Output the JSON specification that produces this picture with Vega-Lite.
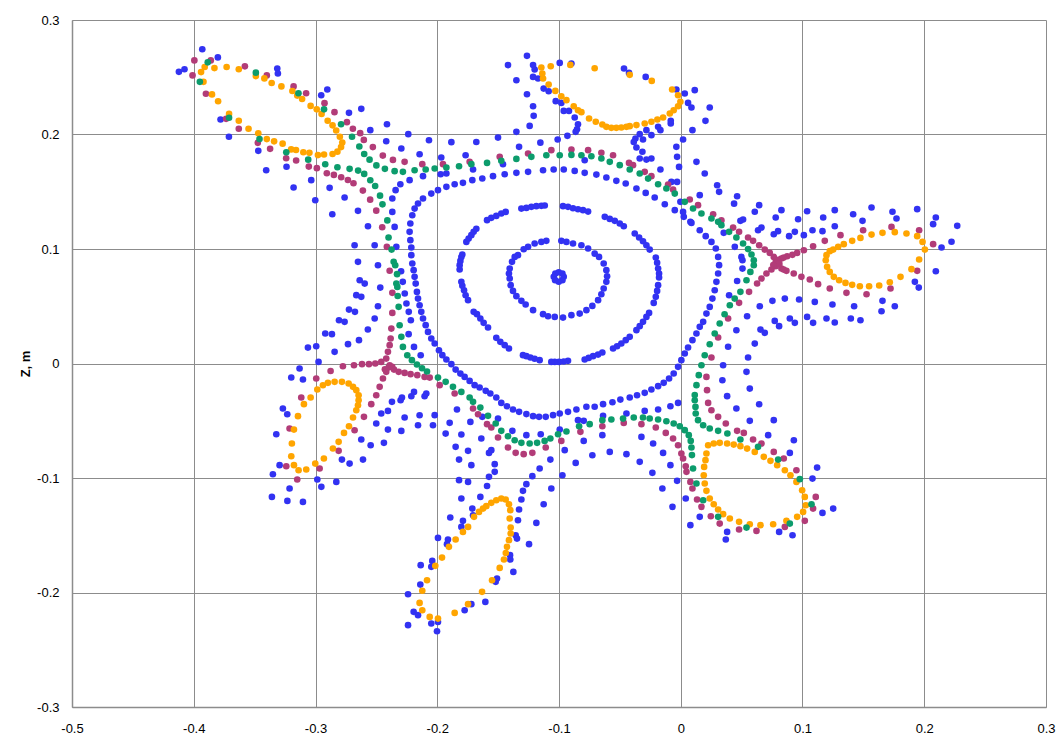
{
"$schema":"https://vega.github.io/schema/vega-lite/v6.json",
"width":974,"height":687,"autosize":{"type":"none"},
"padding":{"left":72,"top":20,"right":11,"bottom":34},
"background":"white",
"config":{"view":{"stroke":null},"axis":{"grid":true,"gridColor":"#8c8c8c","gridWidth":1,"domainColor":"#8c8c8c","domainWidth":1.5,"ticks":false,"labelFont":"Liberation Sans","labelFontSize":13,"labelColor":"#000","titleFont":"Liberation Sans","titleFontSize":13,"titleColor":"#000","titleFontWeight":"bold"}},
"datasets":{
"blue":[
{"x":-0.1043,"y":0.0757},{"x":-0.1030,"y":0.0786},{"x":-0.1002,"y":0.0797},{"x":-0.0972,"y":0.0786},{"x":-0.0961,"y":0.0757},{"x":-0.0972,"y":0.0728},{"x":-0.1002,"y":0.0714},{"x":-0.1032,"y":0.0728},
{"x":-0.1405,"y":0.0829},{"x":-0.1411,"y":0.0786},{"x":-0.1405,"y":0.0742},{"x":-0.1397,"y":0.0684},{"x":-0.1378,"y":0.0634},{"x":-0.1350,"y":0.0588},{"x":-0.1309,"y":0.0547},{"x":-0.1274,"y":0.0515},{"x":-0.1213,"y":0.0466},{"x":-0.1131,"y":0.0431},{"x":-0.1090,"y":0.0413},{"x":-0.1035,"y":0.0407},{"x":-0.0967,"y":0.0401},{"x":-0.0898,"y":0.0422},{"x":-0.0830,"y":0.0436},{"x":-0.0775,"y":0.0466},{"x":-0.0726,"y":0.0503},{"x":-0.0679,"y":0.0553},{"x":-0.0652,"y":0.0605},{"x":-0.0633,"y":0.0655},{"x":-0.0611,"y":0.0713},{"x":-0.0605,"y":0.0762},{"x":-0.0611,"y":0.0815},{"x":-0.0633,"y":0.0873},{"x":-0.0671,"y":0.0931},{"x":-0.0707,"y":0.0960},{"x":-0.0761,"y":0.1004},{"x":-0.0816,"y":0.1033},{"x":-0.0885,"y":0.1048},{"x":-0.0939,"y":0.1062},{"x":-0.0981,"y":0.1071},{"x":-0.1104,"y":0.1071},{"x":-0.1145,"y":0.1062},{"x":-0.1200,"y":0.1048},{"x":-0.1254,"y":0.1019},{"x":-0.1290,"y":0.0998},{"x":-0.1337,"y":0.0946},{"x":-0.1364,"y":0.0931},{"x":-0.1386,"y":0.0888},
{"x":-0.1591,"y":0.1252},{"x":-0.1556,"y":0.1272},{"x":-0.1515,"y":0.1289},{"x":-0.1474,"y":0.1310},{"x":-0.1438,"y":0.1324},{"x":-0.1309,"y":0.1353},{"x":-0.1268,"y":0.1359},{"x":-0.1227,"y":0.1368},{"x":-0.1186,"y":0.1374},{"x":-0.1145,"y":0.1377},{"x":-0.1117,"y":0.1380},{"x":-0.0967,"y":0.1374},{"x":-0.0926,"y":0.1368},{"x":-0.0885,"y":0.1356},{"x":-0.0844,"y":0.1347},{"x":-0.0803,"y":0.1339},{"x":-0.0761,"y":0.1327},{"x":-0.0624,"y":0.1281},{"x":-0.0583,"y":0.1263},{"x":-0.0542,"y":0.1246},{"x":-0.0501,"y":0.1223},{"x":-0.0468,"y":0.1199},{"x":-0.0378,"y":0.1135},{"x":-0.0342,"y":0.1100},{"x":-0.0310,"y":0.1068},{"x":-0.0282,"y":0.1033},{"x":-0.0255,"y":0.0995},{"x":-0.0205,"y":0.0925},{"x":-0.0194,"y":0.0879},{"x":-0.0186,"y":0.0829},{"x":-0.0178,"y":0.0786},{"x":-0.0178,"y":0.0751},{"x":-0.0186,"y":0.0684},{"x":-0.0194,"y":0.0634},{"x":-0.0205,"y":0.0582},{"x":-0.0222,"y":0.0529},{"x":-0.0260,"y":0.0442},{"x":-0.0282,"y":0.0407},{"x":-0.0310,"y":0.0364},{"x":-0.0337,"y":0.0326},{"x":-0.0364,"y":0.0291},{"x":-0.0419,"y":0.0233},{"x":-0.0452,"y":0.0204},{"x":-0.0488,"y":0.0175},{"x":-0.0523,"y":0.0151},{"x":-0.0556,"y":0.0131},{"x":-0.0644,"y":0.0096},{"x":-0.0679,"y":0.0078},{"x":-0.0720,"y":0.0064},{"x":-0.0756,"y":0.0049},{"x":-0.0789,"y":0.0035},{"x":-0.0926,"y":0.0023},{"x":-0.0961,"y":0.0017},{"x":-0.1000,"y":0.0014},{"x":-0.1035,"y":0.0014},{"x":-0.1063,"y":0.0014},{"x":-0.1159,"y":0.0029},{"x":-0.1200,"y":0.0041},{"x":-0.1235,"y":0.0052},{"x":-0.1268,"y":0.0064},{"x":-0.1296,"y":0.0073},{"x":-0.1411,"y":0.0131},{"x":-0.1446,"y":0.0160},{"x":-0.1482,"y":0.0189},{"x":-0.1515,"y":0.0224},{"x":-0.1583,"y":0.0314},{"x":-0.1619,"y":0.0355},{"x":-0.1646,"y":0.0393},{"x":-0.1674,"y":0.0431},{"x":-0.1701,"y":0.0451},{"x":-0.1747,"y":0.0553},{"x":-0.1767,"y":0.0596},{"x":-0.1780,"y":0.0640},{"x":-0.1794,"y":0.0678},{"x":-0.1802,"y":0.0713},{"x":-0.1816,"y":0.0821},{"x":-0.1816,"y":0.0859},{"x":-0.1810,"y":0.0896},{"x":-0.1802,"y":0.0931},{"x":-0.1794,"y":0.0952},{"x":-0.1761,"y":0.1062},{"x":-0.1742,"y":0.1091},{"x":-0.1720,"y":0.1121},{"x":-0.1701,"y":0.1150},{"x":-0.1679,"y":0.1176},
{"x":-0.2186,"y":0.1353},{"x":-0.2158,"y":0.1397},{"x":-0.2117,"y":0.1441},{"x":-0.2049,"y":0.1484},{"x":-0.1994,"y":0.1514},{"x":-0.1925,"y":0.1543},{"x":-0.1857,"y":0.1566},{"x":-0.1789,"y":0.1578},{"x":-0.1712,"y":0.1601},{"x":-0.1630,"y":0.1616},{"x":-0.1542,"y":0.1636},{"x":-0.1446,"y":0.1653},{"x":-0.1350,"y":0.1665},{"x":-0.1254,"y":0.1674},{"x":-0.1131,"y":0.1688},{"x":-0.1044,"y":0.1694},{"x":-0.0961,"y":0.1694},{"x":-0.0871,"y":0.1682},{"x":-0.0789,"y":0.1665},{"x":-0.0693,"y":0.1650},{"x":-0.0611,"y":0.1624},{"x":-0.0529,"y":0.1595},{"x":-0.0452,"y":0.1572},{"x":-0.0364,"y":0.1528},{"x":-0.0288,"y":0.1490},{"x":-0.0214,"y":0.1450},{"x":-0.0131,"y":0.1391},{"x":-0.0049,"y":0.1339},{"x":0.0025,"y":0.1281},{"x":0.0088,"y":0.1228},{"x":0.0156,"y":0.1164},{"x":0.0205,"y":0.1112},{"x":0.0252,"y":0.1062},{"x":0.0288,"y":0.1004},{"x":0.0307,"y":0.0931},{"x":0.0315,"y":0.0859},{"x":0.0307,"y":0.0786},{"x":0.0293,"y":0.0713},{"x":0.0279,"y":0.0640},{"x":0.0260,"y":0.0567},{"x":0.0238,"y":0.0494},{"x":0.0211,"y":0.0436},{"x":0.0184,"y":0.0364},{"x":0.0156,"y":0.0320},{"x":0.0129,"y":0.0262},{"x":0.0096,"y":0.0204},{"x":0.0060,"y":0.0140},{"x":0.0033,"y":0.0087},{"x":0.0005,"y":0.0029},{"x":-0.0022,"y":-0.0029},{"x":-0.0058,"y":-0.0087},{"x":-0.0096,"y":-0.0131},{"x":-0.0140,"y":-0.0169},{"x":-0.0186,"y":-0.0198},{"x":-0.0241,"y":-0.0227},{"x":-0.0296,"y":-0.0256},{"x":-0.0359,"y":-0.0277},{"x":-0.0419,"y":-0.0297},{"x":-0.0496,"y":-0.0315},{"x":-0.0561,"y":-0.0338},{"x":-0.0638,"y":-0.0355},{"x":-0.0707,"y":-0.0378},{"x":-0.0775,"y":-0.0378},{"x":-0.0857,"y":-0.0402},{"x":-0.0926,"y":-0.0422},{"x":-0.0994,"y":-0.0437},{"x":-0.1049,"y":-0.0451},{"x":-0.1109,"y":-0.0466},{"x":-0.1164,"y":-0.0466},{"x":-0.1213,"y":-0.0460},{"x":-0.1268,"y":-0.0442},{"x":-0.1328,"y":-0.0422},{"x":-0.1378,"y":-0.0402},{"x":-0.1427,"y":-0.0373},{"x":-0.1474,"y":-0.0344},{"x":-0.1515,"y":-0.0297},{"x":-0.1564,"y":-0.0262},{"x":-0.1602,"y":-0.0239},{"x":-0.1652,"y":-0.0210},{"x":-0.1693,"y":-0.0189},{"x":-0.1734,"y":-0.0152},{"x":-0.1775,"y":-0.0117},{"x":-0.1810,"y":-0.0088},{"x":-0.1849,"y":-0.0053},{"x":-0.1884,"y":-0.0006},{"x":-0.1925,"y":0.0035},{"x":-0.1958,"y":0.0073},{"x":-0.1986,"y":0.0116},{"x":-0.2021,"y":0.0175},{"x":-0.2049,"y":0.0218},{"x":-0.2076,"y":0.0276},{"x":-0.2095,"y":0.0335},{"x":-0.2117,"y":0.0393},{"x":-0.2131,"y":0.0451},{"x":-0.2145,"y":0.0509},{"x":-0.2158,"y":0.0567},{"x":-0.2167,"y":0.0625},{"x":-0.2177,"y":0.0698},{"x":-0.2186,"y":0.0757},{"x":-0.2194,"y":0.0815},{"x":-0.2205,"y":0.0873},{"x":-0.2213,"y":0.0946},{"x":-0.2213,"y":0.1013},{"x":-0.2221,"y":0.1077},{"x":-0.2227,"y":0.1150},{"x":-0.2221,"y":0.1223},{"x":-0.2205,"y":0.1295},
{"x":-0.4122,"y":0.2547},{"x":-0.4076,"y":0.2570},{"x":-0.3930,"y":0.2745},{"x":-0.3802,"y":0.2673},{"x":-0.3314,"y":0.2576},{"x":-0.3309,"y":0.2533},{"x":-0.3780,"y":0.2131},{"x":-0.3711,"y":0.1980},{"x":-0.3470,"y":0.1857},{"x":-0.3405,"y":0.1688},{"x":-0.3238,"y":0.1718},{"x":-0.3180,"y":0.1537},{"x":-0.3035,"y":0.1601},{"x":-0.3002,"y":0.1426},{"x":-0.2953,"y":0.2343},{"x":-0.2903,"y":0.2393},{"x":-0.2725,"y":0.2189},{"x":-0.2624,"y":0.2224},{"x":-0.2862,"y":0.1304},{"x":-0.2761,"y":0.1450},{"x":-0.2884,"y":0.1534},{"x":-0.2651,"y":0.1333},{"x":-0.2569,"y":0.1199},{"x":-0.2550,"y":0.2038},{"x":-0.2413,"y":0.2090},{"x":-0.2419,"y":0.1941},{"x":-0.2679,"y":0.1033},{"x":-0.2514,"y":0.1033},{"x":-0.2342,"y":0.1514},{"x":-0.2369,"y":0.1441},{"x":-0.2369,"y":0.1324},{"x":-0.2350,"y":0.1193},{"x":-0.2336,"y":0.1019},{"x":-0.2238,"y":0.2003},{"x":-0.2068,"y":0.1950},{"x":-0.1884,"y":0.1933},{"x":-0.2295,"y":0.1878},
{"x":-0.2145,"y":0.1828},{"x":-0.1967,"y":0.1799},{"x":-0.1767,"y":0.1819},{"x":-0.1706,"y":0.1694},{"x":-0.1972,"y":0.1653},{"x":-0.1925,"y":0.1659},{"x":-0.2117,"y":0.1636},{"x":-0.2227,"y":0.1601},{"x":-0.2303,"y":0.1566},
{"x":-0.1263,"y":0.2687},{"x":-0.1419,"y":0.2606},{"x":-0.1350,"y":0.2474},{"x":-0.1213,"y":0.2606},{"x":-0.1200,"y":0.2568},{"x":-0.1213,"y":0.2503},{"x":-0.1172,"y":0.2489},{"x":-0.1263,"y":0.2352},{"x":-0.1213,"y":0.2247},{"x":-0.1208,"y":0.2163},{"x":-0.1241,"y":0.2075},{"x":-0.1350,"y":0.2023},{"x":-0.1126,"y":0.2401},{"x":-0.1085,"y":0.2378},{"x":-0.1027,"y":0.2291},{"x":-0.0981,"y":0.2276},{"x":-0.0961,"y":0.2206},{"x":-0.0918,"y":0.2206},{"x":-0.0871,"y":0.2148},{"x":-0.0844,"y":0.2090},{"x":-0.0852,"y":0.2046},{"x":-0.0863,"y":0.2023},{"x":-0.0931,"y":0.1988},{"x":-0.1011,"y":0.1956},{"x":-0.0994,"y":0.2625},{"x":-0.0898,"y":0.2620},{"x":-0.0466,"y":0.2576},{"x":-0.0425,"y":0.2538},{"x":-0.0288,"y":0.2503},{"x":-0.0036,"y":0.2393},{"x":0.0033,"y":0.2358},{"x":0.0115,"y":0.2387},{"x":0.0060,"y":0.2276},{"x":0.0088,"y":0.2236},{"x":0.0238,"y":0.2236},{"x":0.0203,"y":0.2119},{"x":0.0096,"y":0.2038},{"x":0.0019,"y":0.1956},{"x":-0.0082,"y":0.2096},{"x":-0.0082,"y":0.2119},{"x":-0.0186,"y":0.2067},{"x":-0.0167,"y":0.2038},{"x":-0.0241,"y":0.1994},{"x":-0.0282,"y":0.2038},{"x":-0.0337,"y":0.2003},{"x":-0.0310,"y":0.1956},{"x":-0.0372,"y":0.1964},{"x":-0.0386,"y":0.1935},{"x":-0.1679,"y":0.1935},{"x":-0.1501,"y":0.1973},{"x":-0.1328,"y":0.1892},{"x":-0.1153,"y":0.1929},
{"x":-0.0036,"y":0.1892},{"x":-0.0030,"y":0.1805},{"x":-0.0014,"y":0.1717},{"x":-0.0030,"y":0.1586},{"x":-0.0003,"y":0.1412},{"x":0.0019,"y":0.1324},{"x":0.0079,"y":0.1237},{"x":0.0156,"y":0.1470},{"x":0.0197,"y":0.1659},{"x":0.0129,"y":0.1761},{"x":0.0299,"y":0.1557},{"x":0.0315,"y":0.1499},{"x":-0.0364,"y":0.1886},{"x":-0.0315,"y":0.1849},{"x":-0.0337,"y":0.1790},{"x":-0.0282,"y":0.1781},{"x":-0.0241,"y":0.1790},{"x":-0.0167,"y":0.1694},{"x":-0.0077,"y":0.1586},{"x":-0.1460,"y":0.1740},{"x":-0.0789,"y":0.1775},
{"x":0.0438,"y":0.1396},{"x":0.0463,"y":0.1461},{"x":0.0644,"y":0.1383},{"x":0.0608,"y":0.1325},{"x":0.0827,"y":0.1339},{"x":0.0780,"y":0.1275},{"x":0.0964,"y":0.1260},{"x":0.1038,"y":0.1330},{"x":0.1170,"y":0.1275},{"x":0.1265,"y":0.1339},{"x":0.1416,"y":0.1304},{"x":0.1493,"y":0.1246},{"x":0.1567,"y":0.1362},{"x":0.1739,"y":0.1325},{"x":0.1772,"y":0.1266},{"x":0.1942,"y":0.1348},{"x":0.2095,"y":0.1275},{"x":0.2073,"y":0.1217},{"x":0.2271,"y":0.1202},{"x":0.2224,"y":0.1063},{"x":0.2142,"y":0.1013},{"x":0.2095,"y":0.0806},{"x":0.1923,"y":0.0713},{"x":0.1955,"y":0.0663},{"x":0.0490,"y":0.1246},{"x":0.0512,"y":0.1258},{"x":0.0635,"y":0.1164},{"x":0.0663,"y":0.1188},{"x":0.0764,"y":0.1129},{"x":0.0799,"y":0.1156},{"x":0.0890,"y":0.1112},{"x":0.0937,"y":0.1150},{"x":0.1011,"y":0.1121},{"x":0.1082,"y":0.1164},{"x":0.1164,"y":0.1156},{"x":0.1265,"y":0.1199},{"x":0.0353,"y":0.1141},{"x":0.0444,"y":0.1019},{"x":0.0498,"y":0.0931},{"x":0.0507,"y":0.0902},{"x":0.0507,"y":0.0829},{"x":0.0463,"y":0.0721},{"x":0.0397,"y":0.0596},{"x":0.0649,"y":0.0500},{"x":0.0753,"y":0.0547},{"x":0.0855,"y":0.0567},{"x":0.0972,"y":0.0559},{"x":0.1101,"y":0.0538},{"x":0.1246,"y":0.0515},{"x":0.1424,"y":0.0500},{"x":0.1657,"y":0.0547},{"x":0.1758,"y":0.0500},{"x":0.1649,"y":0.0456},{"x":0.0545,"y":0.0413},{"x":0.0457,"y":0.0290},{"x":0.0655,"y":0.0296},{"x":0.0690,"y":0.0268},{"x":0.0772,"y":0.0372},{"x":0.0808,"y":0.0326},{"x":0.0896,"y":0.0393},{"x":0.0937,"y":0.0355},{"x":0.1038,"y":0.0407},{"x":0.1087,"y":0.0355},{"x":0.1197,"y":0.0393},{"x":0.1265,"y":0.0358},{"x":0.1397,"y":0.0393},{"x":0.1476,"y":0.0378},{"x":0.0608,"y":0.0174},{"x":0.0389,"y":0.0146},
{"x":-0.2651,"y":0.0888},{"x":-0.2487,"y":0.0858},{"x":-0.2637,"y":0.0727},{"x":-0.2596,"y":0.0698},{"x":-0.2468,"y":0.0663},{"x":-0.2665,"y":0.0597},{"x":-0.2624,"y":0.0582},{"x":-0.2487,"y":0.0500},{"x":-0.2725,"y":0.0471},{"x":-0.2676,"y":0.0451},{"x":-0.2514,"y":0.0393},{"x":-0.2807,"y":0.0378},{"x":-0.2761,"y":0.0364},{"x":-0.2570,"y":0.0297},
{"x":-0.2297,"y":0.0806},{"x":-0.2283,"y":0.0713},{"x":-0.2267,"y":0.0611},{"x":-0.2253,"y":0.0524},{"x":-0.2234,"y":0.0451},{"x":-0.2217,"y":0.0378},
{"x":-0.2920,"y":0.0262},{"x":-0.2865,"y":0.0256},{"x":-0.3062,"y":0.0139},{"x":-0.2994,"y":0.0151},{"x":-0.2733,"y":0.0169},{"x":-0.2643,"y":0.0204},{"x":-0.2843,"y":0.0102},{"x":-0.2975,"y":0.0014},{"x":-0.3131,"y":-0.0044},{"x":-0.3199,"y":-0.0122},{"x":-0.3103,"y":-0.0140},{"x":-0.3268,"y":-0.0393},{"x":-0.3232,"y":-0.0443},{"x":-0.3322,"y":-0.0618},{"x":-0.3295,"y":-0.0888},{"x":-0.3350,"y":-0.0967},{"x":-0.3213,"y":-0.1092},{"x":-0.3358,"y":-0.1165},{"x":-0.3231,"y":-0.1200},{"x":-0.3103,"y":-0.1209},{"x":-0.2985,"y":-0.1013},{"x":-0.2952,"y":-0.1077},{"x":-0.2829,"y":-0.1034},{"x":-0.2783,"y":-0.0839},{"x":-0.2720,"y":-0.0874},{"x":-0.2610,"y":-0.0839},{"x":-0.2624,"y":-0.0664},{"x":-0.2547,"y":-0.0714},{"x":-0.2438,"y":-0.0693},{"x":-0.2501,"y":-0.0524},{"x":-0.2405,"y":-0.0577},{"x":-0.2295,"y":-0.0589},{"x":-0.2405,"y":-0.0414},{"x":-0.2460,"y":-0.0437},{"x":-0.2372,"y":-0.0335},{"x":-0.2301,"y":-0.0321},{"x":-0.2290,"y":-0.0298},{"x":-0.2213,"y":-0.0286},{"x":-0.2191,"y":-0.0248},{"x":-0.2268,"y":-0.0472},{"x":-0.2145,"y":-0.0452},{"x":-0.2158,"y":-0.0539},{"x":-0.2104,"y":-0.0286},{"x":-0.2090,"y":-0.0262},{"x":-0.2235,"y":0.0256},{"x":-0.2191,"y":0.0145},{"x":-0.2136,"y":0.0072},
{"x":-0.1802,"y":-0.0620},{"x":-0.1638,"y":-0.0655},{"x":-0.1575,"y":-0.0781},{"x":-0.1556,"y":-0.0757},{"x":-0.1528,"y":-0.0879},{"x":-0.1528,"y":-0.0946},{"x":-0.1575,"y":-0.0990},{"x":-0.1591,"y":-0.1070},{"x":-0.1646,"y":-0.1165},{"x":-0.1712,"y":-0.1267},{"x":-0.1706,"y":-0.1325},{"x":-0.1789,"y":-0.1374},{"x":-0.1802,"y":-0.1427},{"x":-0.1893,"y":-0.1345},{"x":-0.1994,"y":-0.1523},{"x":-0.1912,"y":-0.1537},{"x":-0.1920,"y":-0.1578},{"x":-0.1802,"y":-0.1179},{"x":-0.1821,"y":-0.1019},{"x":-0.1747,"y":-0.1034},{"x":-0.1821,"y":-0.0839},{"x":-0.1720,"y":-0.0888},{"x":-0.1747,"y":-0.0763},{"x":-0.1849,"y":-0.0728},{"x":-0.1268,"y":-0.1054},{"x":-0.1296,"y":-0.1112},{"x":-0.1309,"y":-0.1188},{"x":-0.1328,"y":-0.1275},{"x":-0.1337,"y":-0.1369},{"x":-0.1356,"y":-0.1500},{"x":-0.1345,"y":-0.1529},{"x":-0.1246,"y":-0.1578},{"x":-0.1219,"y":-0.0984},{"x":-0.1159,"y":-0.0917},{"x":-0.1071,"y":-0.0839},{"x":-0.1063,"y":-0.1092},{"x":-0.1126,"y":-0.1229},{"x":-0.1186,"y":-0.1392},{"x":-0.0972,"y":-0.0976},{"x":-0.0863,"y":-0.0868},{"x":-0.0726,"y":-0.0801},{"x":-0.0583,"y":-0.0772},{"x":-0.0446,"y":-0.0792},{"x":-0.0953,"y":-0.0757},{"x":-0.0797,"y":-0.0676},{"x":-0.0644,"y":-0.0626},
{"x":-0.2021,"y":-0.0451},{"x":-0.2035,"y":-0.0539},{"x":-0.1931,"y":-0.0612},{"x":-0.1898,"y":-0.0518},{"x":-0.1838,"y":-0.0402},{"x":-0.1728,"y":-0.0510},{"x":-0.1630,"y":-0.0466},{"x":-0.1501,"y":-0.0481},{"x":-0.1383,"y":-0.0588},{"x":-0.1268,"y":-0.0626},{"x":-0.1150,"y":-0.0618},{"x":-0.0994,"y":-0.0577},{"x":-0.0844,"y":-0.0495},{"x":-0.0797,"y":-0.0501},{"x":-0.0638,"y":-0.0457},{"x":-0.0446,"y":-0.0437},
{"x":0.0457,"y":-0.0393},{"x":0.0644,"y":-0.0356},{"x":0.0567,"y":-0.0501},{"x":0.0764,"y":-0.0495},{"x":0.0718,"y":-0.0626},{"x":0.0929,"y":-0.0670},{"x":0.0896,"y":-0.0781},{"x":0.1120,"y":-0.0909},{"x":0.1082,"y":-0.1005},{"x":0.1252,"y":-0.1267},{"x":0.1164,"y":-0.1305},{"x":0.0918,"y":-0.1500},{"x":0.0808,"y":-0.1471},{"x":0.0381,"y":-0.1471},{"x":0.0370,"y":-0.1537},{"x":0.0156,"y":-0.1339},{"x":0.0079,"y":-0.1412},{"x":-0.0068,"y":-0.1252},{"x":0.0041,"y":-0.1179},{"x":-0.0030,"y":-0.1025},{"x":-0.0151,"y":-0.1092},{"x":-0.0233,"y":-0.0955},{"x":-0.0085,"y":-0.0888},{"x":-0.0145,"y":-0.0781},{"x":-0.0227,"y":-0.0699},{"x":-0.0323,"y":-0.0641},{"x":-0.0337,"y":-0.0859},{"x":-0.0296,"y":-0.0414},{"x":-0.0186,"y":-0.0402},{"x":-0.0085,"y":-0.0373},{"x":-0.0022,"y":-0.0344},
{"x":0.0348,"y":-0.0015},{"x":0.0342,"y":-0.0146},{"x":0.0381,"y":-0.0285},{"x":0.0553,"y":0.0052},{"x":0.0540,"y":-0.0073},{"x":0.0567,"y":-0.0219},
{"x":-0.2240,"y":-0.2015},{"x":-0.2194,"y":-0.2169},{"x":-0.2158,"y":-0.2198},{"x":-0.2240,"y":-0.2285},{"x":-0.2136,"y":-0.1761},{"x":-0.2139,"y":-0.1931},{"x":-0.2049,"y":-0.2271},{"x":-0.2002,"y":-0.2338},{"x":-0.1994,"y":-0.2257},{"x":-0.2041,"y":-0.1724},{"x":-0.2049,"y":-0.1776},{"x":-0.1775,"y":-0.2155},{"x":-0.1720,"y":-0.2102},{"x":-0.1605,"y":-0.2082},{"x":-0.1520,"y":-0.1907},{"x":-0.1509,"y":-0.1878},{"x":-0.1375,"y":-0.1820},{"x":-0.1400,"y":-0.1712},{"x":-0.1402,"y":-0.1674}
],
"magenta":[
{"x":-0.3995,"y":0.2647},{"x":-0.4010,"y":0.2516},{"x":-0.3860,"y":0.2647},{"x":-0.3900,"y":0.2356},{"x":-0.3734,"y":0.2137},{"x":-0.3630,"y":0.2050},{"x":-0.3580,"y":0.2595},{"x":-0.3400,"y":0.2516},{"x":-0.3180,"y":0.2420},{"x":-0.3077,"y":0.2360},{"x":-0.2926,"y":0.2274},{"x":-0.2844,"y":0.2195},{"x":-0.2742,"y":0.2108},{"x":-0.2693,"y":0.2050},{"x":-0.2633,"y":0.2012},{"x":-0.2603,"y":0.1953},{"x":-0.2529,"y":0.1890},{"x":-0.2447,"y":0.1816},{"x":-0.2364,"y":0.1778},{"x":-0.3474,"y":0.1927},{"x":-0.3373,"y":0.1875},{"x":-0.3241,"y":0.1793},{"x":-0.3159,"y":0.1773},{"x":-0.3055,"y":0.1720},{"x":-0.2989,"y":0.1706},{"x":-0.2907,"y":0.1662},{"x":-0.2849,"y":0.1647},{"x":-0.2789,"y":0.1627},{"x":-0.2734,"y":0.1603},{"x":-0.2688,"y":0.1574},{"x":-0.2611,"y":0.1510},{"x":-0.2551,"y":0.1431},{"x":-0.2501,"y":0.1335},{"x":-0.2452,"y":0.1190},{"x":-0.2414,"y":0.1019},
{"x":-0.2268,"y":0.1761},{"x":-0.2123,"y":0.1741},{"x":-0.1953,"y":0.1741},{"x":-0.1734,"y":0.1761},{"x":-0.1487,"y":0.1805},{"x":-0.1254,"y":0.1834},{"x":-0.1063,"y":0.1863},{"x":-0.0898,"y":0.1869},{"x":-0.0761,"y":0.1863},{"x":-0.0652,"y":0.1840},{"x":-0.0556,"y":0.1819},{"x":-0.0425,"y":0.1752},{"x":-0.0392,"y":0.1732},{"x":-0.0296,"y":0.1674},{"x":-0.0241,"y":0.1636},{"x":-0.0104,"y":0.1563},{"x":-0.0063,"y":0.1519},{"x":0.0074,"y":0.1432},{"x":0.0142,"y":0.1383},{"x":0.0266,"y":0.1304},{"x":-0.1980,"y":-0.0189},{"x":-0.1857,"y":-0.0262},
{"x":0.0307,"y":0.0227},{"x":0.0252,"y":0.0052},{"x":0.0211,"y":-0.0117},{"x":0.0216,"y":-0.0233},
{"x":0.0334,"y":0.1250},{"x":0.0430,"y":0.1187},{"x":0.0479,"y":0.1150},{"x":0.0553,"y":0.1100},{"x":0.0594,"y":0.1071},{"x":0.0644,"y":0.1033},{"x":0.0690,"y":0.0995},{"x":0.0731,"y":0.0966},{"x":0.0764,"y":0.0931},{"x":0.0780,"y":0.0888},{"x":0.0780,"y":0.0850},{"x":0.0745,"y":0.0821},{"x":0.0704,"y":0.0786},{"x":0.0663,"y":0.0742},{"x":0.0627,"y":0.0699},{"x":0.0561,"y":0.0626},{"x":0.0479,"y":0.0530},{"x":0.0389,"y":0.0393},{"x":0.0827,"y":0.0917},{"x":0.0874,"y":0.0937},{"x":0.0917,"y":0.0949},{"x":0.0956,"y":0.0966},{"x":0.1011,"y":0.0989},{"x":0.1087,"y":0.1024},{"x":0.1183,"y":0.1071},{"x":0.1312,"y":0.1121},{"x":0.1498,"y":0.1164},{"x":0.1731,"y":0.1193},{"x":0.1958,"y":0.1164},{"x":0.2073,"y":0.1042},{"x":0.0827,"y":0.0830},{"x":0.0868,"y":0.0809},{"x":0.0928,"y":0.0786},{"x":0.0991,"y":0.0757},{"x":0.1060,"y":0.0734},{"x":0.1128,"y":0.0693},{"x":0.1224,"y":0.0655},{"x":0.1361,"y":0.0617},{"x":0.1526,"y":0.0605},{"x":0.1723,"y":0.0655},{"x":0.1942,"y":0.0809},{"x":0.0800,"y":0.0905},{"x":0.0810,"y":0.0870},{"x":0.0760,"y":0.0860},{"x":0.0845,"y":0.0925},{"x":0.0845,"y":0.0820},
{"x":-0.2391,"y":0.0810},{"x":-0.2369,"y":0.0617},{"x":-0.2369,"y":0.0442},{"x":-0.2377,"y":0.0305},
{"x":-0.2383,"y":0.0218},{"x":-0.2391,"y":0.0160},{"x":-0.2405,"y":0.0102},{"x":-0.2419,"y":0.0043},{"x":-0.2391,"y":-0.0015},{"x":-0.2460,"y":0.0014},{"x":-0.2509,"y":0.0000},{"x":-0.2561,"y":-0.0006},{"x":-0.2618,"y":-0.0006},{"x":-0.2684,"y":-0.0015},{"x":-0.2775,"y":-0.0024},{"x":-0.2355,"y":-0.0053},{"x":-0.2317,"y":-0.0073},{"x":-0.2268,"y":-0.0082},{"x":-0.2219,"y":-0.0093},{"x":-0.2164,"y":-0.0102},{"x":-0.2104,"y":-0.0117},{"x":-0.2062,"y":-0.0123},{"x":-0.2419,"y":-0.0073},{"x":-0.2446,"y":-0.0131},{"x":-0.2473,"y":-0.0204},{"x":-0.2501,"y":-0.0277},{"x":-0.2542,"y":-0.0355},{"x":-0.2602,"y":-0.0466},{"x":-0.2679,"y":-0.0583},{"x":-0.2810,"y":-0.0763},{"x":-0.2966,"y":-0.0917},{"x":-0.3150,"y":-0.1013},{"x":-0.2876,"y":-0.0065},{"x":-0.2994,"y":-0.0131},{"x":-0.3117,"y":-0.0297},{"x":-0.3213,"y":-0.0568},{"x":-0.3240,"y":-0.0897},{"x":-0.2400,"y":-0.0035},{"x":-0.2370,"y":-0.0030},{"x":-0.2430,"y":-0.0050},
{"x":-0.1706,"y":-0.0393},{"x":-0.1665,"y":-0.0443},{"x":-0.1591,"y":-0.0530},{"x":-0.1556,"y":-0.0559},{"x":-0.1501,"y":-0.0646},{"x":-0.1419,"y":-0.0734},{"x":-0.1356,"y":-0.0780},{"x":-0.1290,"y":-0.0792},{"x":-0.1219,"y":-0.0780},{"x":-0.1109,"y":-0.0734},{"x":-0.0981,"y":-0.0676},{"x":-0.0824,"y":-0.0597},{"x":-0.0644,"y":-0.0548},{"x":-0.0468,"y":-0.0519},
{"x":-0.0323,"y":-0.0530},{"x":-0.0205,"y":-0.0559},{"x":-0.0123,"y":-0.0606},{"x":-0.0063,"y":-0.0655},{"x":-0.0022,"y":-0.0714},{"x":0.0005,"y":-0.0786},{"x":0.0019,"y":-0.0830},{"x":0.0041,"y":-0.0897},{"x":0.0047,"y":-0.0946},{"x":0.0079,"y":-0.1034},{"x":0.0096,"y":-0.1092},{"x":0.0134,"y":-0.1188},{"x":0.0170,"y":-0.1252},{"x":0.0247,"y":-0.1334},{"x":0.0320,"y":-0.1398},{"x":0.0479,"y":-0.1450},{"x":0.0622,"y":-0.1462},{"x":0.0855,"y":-0.1427},{"x":0.1019,"y":-0.1374},{"x":0.1087,"y":-0.1267},{"x":0.1109,"y":-0.1165},{"x":0.0950,"y":-0.0932},{"x":0.0846,"y":-0.0830},{"x":0.0764,"y":-0.0772},{"x":0.0663,"y":-0.0699},{"x":0.0594,"y":-0.0664},{"x":0.0518,"y":-0.0606},{"x":0.0463,"y":-0.0588},{"x":0.0370,"y":-0.0524},{"x":0.0307,"y":-0.0466},{"x":0.0252,"y":-0.0408},{"x":0.0225,"y":-0.0344}
],
"orange":[
{"x":-0.394,"y":0.2545},{"x":-0.391,"y":0.259},{"x":-0.383,"y":0.258},{"x":-0.373,"y":0.259},{"x":-0.363,"y":0.257},{"x":-0.349,"y":0.251},{"x":-0.342,"y":0.249},{"x":-0.336,"y":0.245},{"x":-0.328,"y":0.242},{"x":-0.319,"y":0.238},{"x":-0.315,"y":0.234},{"x":-0.311,"y":0.231},{"x":-0.304,"y":0.225},{"x":-0.299,"y":0.222},{"x":-0.295,"y":0.218},{"x":-0.290,"y":0.212},{"x":-0.286,"y":0.208},{"x":-0.283,"y":0.2035},{"x":-0.280,"y":0.198},{"x":-0.278,"y":0.193},{"x":-0.279,"y":0.189},{"x":-0.282,"y":0.185},{"x":-0.286,"y":0.183},{"x":-0.293,"y":0.1825},{"x":-0.298,"y":0.182},{"x":-0.305,"y":0.184},{"x":-0.310,"y":0.1845},{"x":-0.316,"y":0.1865},{"x":-0.320,"y":0.187},{"x":-0.327,"y":0.192},{"x":-0.334,"y":0.194},{"x":-0.340,"y":0.196},{"x":-0.347,"y":0.201},{"x":-0.355,"y":0.205},{"x":-0.363,"y":0.212},{"x":-0.371,"y":0.218},{"x":-0.380,"y":0.229},{"x":-0.385,"y":0.235},{"x":-0.392,"y":0.246},
{"x":-0.1145,"y":0.2585},{"x":-0.1137,"y":0.2532},{"x":-0.1131,"y":0.2489},{"x":-0.1068,"y":0.2596},{"x":-0.1085,"y":0.2436},{"x":-0.1030,"y":0.2381},{"x":-0.0981,"y":0.2334},{"x":-0.0939,"y":0.2300},{"x":-0.0879,"y":0.2247},{"x":-0.0844,"y":0.2212},{"x":-0.0816,"y":0.2195},{"x":-0.0753,"y":0.2140},{"x":-0.0698,"y":0.2111},{"x":-0.0644,"y":0.2087},{"x":-0.0611,"y":0.2067},{"x":-0.0570,"y":0.2058},{"x":-0.0529,"y":0.2058},{"x":-0.0488,"y":0.2061},{"x":-0.0446,"y":0.2067},{"x":-0.0419,"y":0.2073},{"x":-0.0364,"y":0.2082},{"x":-0.0296,"y":0.2096},{"x":-0.0241,"y":0.2111},{"x":-0.0192,"y":0.2131},{"x":-0.0145,"y":0.2148},{"x":-0.0090,"y":0.2183},{"x":-0.0058,"y":0.2212},{"x":-0.0022,"y":0.2247},{"x":-0.0003,"y":0.2285},{"x":-0.0022,"y":0.2343},{"x":-0.0071,"y":0.2393},{"x":-0.0907,"y":0.2608},{"x":-0.0707,"y":0.2579},{"x":-0.0419,"y":0.2521},{"x":-0.0238,"y":0.2468},
{"x":0.1191,"y":0.0902},{"x":0.1197,"y":0.0946},{"x":0.1224,"y":0.0981},{"x":0.1252,"y":0.0995},{"x":0.1293,"y":0.1019},{"x":0.1339,"y":0.1042},{"x":0.1408,"y":0.1071},{"x":0.1476,"y":0.1097},{"x":0.1567,"y":0.1126},{"x":0.1657,"y":0.1141},{"x":0.1758,"y":0.1147},{"x":0.1854,"y":0.1135},{"x":0.1942,"y":0.1112},{"x":0.1986,"y":0.1062},{"x":0.2005,"y":0.0995},{"x":0.1958,"y":0.0908},{"x":0.1895,"y":0.0824},{"x":0.1805,"y":0.0757},{"x":0.1717,"y":0.0710},{"x":0.1630,"y":0.0681},{"x":0.1547,"y":0.0675},{"x":0.1471,"y":0.0675},{"x":0.1408,"y":0.0687},{"x":0.1353,"y":0.0704},{"x":0.1301,"y":0.0727},{"x":0.1257,"y":0.0757},{"x":0.1224,"y":0.0800},{"x":0.1202,"y":0.0844},
{"x":0.0225,"y":-0.0714},{"x":0.0271,"y":-0.0699},{"x":0.0320,"y":-0.0693},{"x":0.0381,"y":-0.0699},{"x":0.0435,"y":-0.0708},{"x":0.0490,"y":-0.0722},{"x":0.0545,"y":-0.0743},{"x":0.0608,"y":-0.0772},{"x":0.0682,"y":-0.0815},{"x":0.0737,"y":-0.0850},{"x":0.0792,"y":-0.0888},{"x":0.0855,"y":-0.0932},{"x":0.0901,"y":-0.0976},{"x":0.0950,"y":-0.1034},{"x":0.0997,"y":-0.1107},{"x":0.1019,"y":-0.1165},{"x":0.1027,"y":-0.1238},{"x":0.1005,"y":-0.1296},{"x":0.0956,"y":-0.1339},{"x":0.0868,"y":-0.1374},{"x":0.0759,"y":-0.1404},{"x":0.0655,"y":-0.1412},{"x":0.0567,"y":-0.1404},{"x":0.0479,"y":-0.1383},{"x":0.0403,"y":-0.1354},{"x":0.0348,"y":-0.1316},{"x":0.0307,"y":-0.1275},{"x":0.0271,"y":-0.1229},{"x":0.0238,"y":-0.1179},{"x":0.0211,"y":-0.1112},{"x":0.0197,"y":-0.1048},{"x":0.0189,"y":-0.0976},{"x":0.0192,"y":-0.0903},{"x":0.0203,"y":-0.0844},{"x":0.0211,"y":-0.0786},
{"x":-0.1438,"y":-0.1188},{"x":-0.1474,"y":-0.1179},{"x":-0.1411,"y":-0.1229},{"x":-0.1400,"y":-0.1281},{"x":-0.1405,"y":-0.1354},{"x":-0.1397,"y":-0.1433},{"x":-0.1397,"y":-0.1485},{"x":-0.1411,"y":-0.1543},{"x":-0.1427,"y":-0.1601},{"x":-0.1515,"y":-0.1194},{"x":-0.1556,"y":-0.1217},{"x":-0.1597,"y":-0.1246},{"x":-0.1624,"y":-0.1267},{"x":-0.1657,"y":-0.1296},{"x":-0.1698,"y":-0.1339},{"x":-0.1747,"y":-0.1427},{"x":-0.1789,"y":-0.1471},{"x":-0.1849,"y":-0.1537},{"x":-0.1904,"y":-0.1601},{"x":-0.1437,"y":-0.1655},{"x":-0.1452,"y":-0.1712},{"x":-0.1487,"y":-0.1785},{"x":-0.1550,"y":-0.1893},{"x":-0.1632,"y":-0.1994},{"x":-0.1747,"y":-0.2102},{"x":-0.1857,"y":-0.2178},{"x":-0.1994,"y":-0.2228},{"x":-0.2062,"y":-0.2213},{"x":-0.2123,"y":-0.2155},{"x":-0.2145,"y":-0.2091},{"x":-0.2123,"y":-0.1985},{"x":-0.2084,"y":-0.1893},{"x":-0.2016,"y":-0.1767},{"x":-0.1961,"y":-0.1695},
{"x":-0.2646,"y":-0.0277},{"x":-0.2665,"y":-0.0233},{"x":-0.2692,"y":-0.0204},{"x":-0.2728,"y":-0.0175},{"x":-0.2783,"y":-0.0160},{"x":-0.2843,"y":-0.0160},{"x":-0.2898,"y":-0.0169},{"x":-0.2939,"y":-0.0190},{"x":-0.2985,"y":-0.0227},{"x":-0.3040,"y":-0.0297},{"x":-0.3095,"y":-0.0355},{"x":-0.3144,"y":-0.0460},{"x":-0.3177,"y":-0.0577},{"x":-0.3194,"y":-0.0699},{"x":-0.3199,"y":-0.0810},{"x":-0.3177,"y":-0.0888},{"x":-0.3139,"y":-0.0932},{"x":-0.3076,"y":-0.0926},{"x":-0.3002,"y":-0.0874},{"x":-0.2931,"y":-0.0830},{"x":-0.2857,"y":-0.0742},{"x":-0.2810,"y":-0.0684},{"x":-0.2766,"y":-0.0606},{"x":-0.2725,"y":-0.0548},{"x":-0.2692,"y":-0.0472},{"x":-0.2665,"y":-0.0408},{"x":-0.2651,"y":-0.0365},{"x":-0.2646,"y":-0.0321}
],
"green":[
{"x":-0.3885,"y":0.2630},{"x":-0.3950,"y":0.2460},{"x":-0.3490,"y":0.2540},{"x":-0.3140,"y":0.2360},{"x":-0.2930,"y":0.2220},{"x":-0.2790,"y":0.2090},{"x":-0.2700,"y":0.1980},{"x":-0.2640,"y":0.1895},{"x":-0.2600,"y":0.1830},{"x":-0.2556,"y":0.1780},{"x":-0.2500,"y":0.1730},{"x":-0.2430,"y":0.1700},{"x":-0.2350,"y":0.1680},{"x":-0.3710,"y":0.2146},{"x":-0.3460,"y":0.1960},{"x":-0.3240,"y":0.1845},{"x":-0.3060,"y":0.1780},{"x":-0.2920,"y":0.1740},{"x":-0.2820,"y":0.1714},{"x":-0.2720,"y":0.1700},{"x":-0.2650,"y":0.1685},{"x":-0.2600,"y":0.1656},{"x":-0.2550,"y":0.1600},{"x":-0.2510,"y":0.1550},{"x":-0.2470,"y":0.1466},{"x":-0.2450,"y":0.1390},{"x":-0.2410,"y":0.1250},{"x":-0.2400,"y":0.1100},{"x":-0.2375,"y":0.0995},
{"x":-0.2282,"y":0.1674},{"x":-0.2186,"y":0.1688},{"x":-0.2095,"y":0.1694},{"x":-0.2021,"y":0.1703},{"x":-0.1925,"y":0.1712},{"x":-0.1821,"y":0.1723},{"x":-0.1720,"y":0.1741},{"x":-0.1591,"y":0.1752},{"x":-0.1474,"y":0.1770},{"x":-0.1350,"y":0.1787},{"x":-0.1227,"y":0.1805},{"x":-0.1104,"y":0.1819},{"x":-0.0994,"y":0.1819},{"x":-0.0898,"y":0.1822},{"x":-0.0816,"y":0.1819},{"x":-0.0734,"y":0.1810},{"x":-0.0652,"y":0.1790},{"x":-0.0583,"y":0.1761},{"x":-0.0501,"y":0.1732},{"x":-0.0419,"y":0.1694},{"x":-0.0337,"y":0.1659},{"x":-0.0268,"y":0.1615},{"x":-0.0186,"y":0.1566},{"x":-0.0118,"y":0.1528},{"x":-0.0049,"y":0.1484},{"x":0.0033,"y":0.1412},{"x":0.0101,"y":0.1354},{"x":0.0170,"y":0.1310},{"x":0.0252,"y":0.1266},{"x":0.0307,"y":0.1237},
{"x":0.0334,"y":0.1208},{"x":0.0397,"y":0.1150},{"x":0.0457,"y":0.1100},{"x":0.0512,"y":0.1048},{"x":0.0553,"y":0.0999},{"x":0.0581,"y":0.0952},{"x":0.0600,"y":0.0902},{"x":0.0600,"y":0.0858},{"x":0.0572,"y":0.0800},{"x":0.0540,"y":0.0727},{"x":0.0490,"y":0.0626},{"x":0.0443,"y":0.0567},{"x":0.0403,"y":0.0509},{"x":0.0360,"y":0.0430},{"x":0.0320,"y":0.0349},
{"x":0.0279,"y":0.0262},{"x":0.0238,"y":0.0168},{"x":0.0197,"y":0.0072},{"x":0.0170,"y":-0.0015},{"x":0.0148,"y":-0.0102},{"x":0.0129,"y":-0.0189},{"x":0.0115,"y":-0.0276},
{"x":-0.1994,"y":-0.0123},{"x":-0.1931,"y":-0.0160},{"x":-0.1871,"y":-0.0204},{"x":-0.1802,"y":-0.0248},{"x":-0.1734,"y":-0.0297},
{"x":-0.2358,"y":0.0888},{"x":-0.2345,"y":0.0858},{"x":-0.2330,"y":0.0780},{"x":-0.2336,"y":0.0698},{"x":-0.2328,"y":0.0669},{"x":-0.2325,"y":0.0590},{"x":-0.2317,"y":0.0495},{"x":-0.2309,"y":0.0334},
{"x":-0.2295,"y":0.0233},{"x":-0.2282,"y":0.0145},{"x":-0.2246,"y":0.0072},{"x":-0.2208,"y":0.0029},{"x":-0.2167,"y":-0.0009},{"x":-0.2125,"y":-0.0041},{"x":-0.2084,"y":-0.0070},
{"x":-0.1706,"y":-0.0335},{"x":-0.1646,"y":-0.0385},{"x":-0.1583,"y":-0.0457},{"x":-0.1520,"y":-0.0524},{"x":-0.1474,"y":-0.0588},{"x":-0.1419,"y":-0.0635},{"x":-0.1364,"y":-0.0670},{"x":-0.1309,"y":-0.0693},{"x":-0.1241,"y":-0.0699},{"x":-0.1180,"y":-0.0693},{"x":-0.1118,"y":-0.0676},{"x":-0.1071,"y":-0.0655},{"x":-0.1008,"y":-0.0618},{"x":-0.0939,"y":-0.0594},{"x":-0.0835,"y":-0.0548},{"x":-0.0748,"y":-0.0530},{"x":-0.0644,"y":-0.0495},{"x":-0.0570,"y":-0.0489},{"x":-0.0474,"y":-0.0481},{"x":-0.0386,"y":-0.0472},
{"x":-0.0310,"y":-0.0472},{"x":-0.0255,"y":-0.0480},{"x":-0.0186,"y":-0.0489},{"x":-0.0118,"y":-0.0504},{"x":-0.0058,"y":-0.0524},{"x":-0.0008,"y":-0.0548},{"x":0.0033,"y":-0.0582},{"x":0.0066,"y":-0.0626},{"x":0.0082,"y":-0.0676},{"x":0.0088,"y":-0.0734},{"x":0.0092,"y":-0.0800},{"x":0.0101,"y":-0.0917},{"x":0.0129,"y":-0.1048},{"x":0.0184,"y":-0.1194},{"x":0.0307,"y":-0.1339},{"x":0.0115,"y":-0.0321},{"x":0.0121,"y":-0.0379},{"x":0.0123,"y":-0.0437},{"x":0.0142,"y":-0.0495},{"x":0.0184,"y":-0.0539},{"x":0.0238,"y":-0.0568},{"x":0.0307,"y":-0.0588},{"x":0.0383,"y":-0.0611},{"x":0.0490,"y":-0.0664},{"x":0.0635,"y":-0.0728},{"x":0.0800,"y":-0.0839},{"x":0.0978,"y":-0.1010},{"x":0.1074,"y":-0.1229},{"x":0.0896,"y":-0.1398},{"x":0.0540,"y":-0.1433}
]
},
"encoding":{
"x":{"field":"x","type":"quantitative","scale":{"domain":[-0.5,0.3],"nice":false,"zero":false},"axis":{"title":null,"values":[-0.5,-0.4,-0.3,-0.2,-0.1,0,0.1,0.2,0.3],"labelExpr":"'' + datum.value","labelPadding":15,"labelFlush":false}},
"y":{"field":"y","type":"quantitative","scale":{"domain":[-0.3,0.3],"nice":false,"zero":false},"axis":{"title":"Z, m","values":[-0.3,-0.2,-0.1,0,0.1,0.2,0.3],"labelExpr":"'' + datum.value","labelPadding":13,"titlePadding":4,"labelFlush":false}}
},
"layer":[
{"data":{"name":"blue"},"mark":{"type":"circle","size":44,"color":"#3232f2","opacity":1}},
{"data":{"name":"magenta"},"mark":{"type":"circle","size":44,"color":"#b23c78","opacity":1}},
{"data":{"name":"orange"},"mark":{"type":"circle","size":44,"color":"#ffa500","opacity":1}},
{"data":{"name":"green"},"mark":{"type":"circle","size":44,"color":"#0c9c6c","opacity":1}}
]
}
